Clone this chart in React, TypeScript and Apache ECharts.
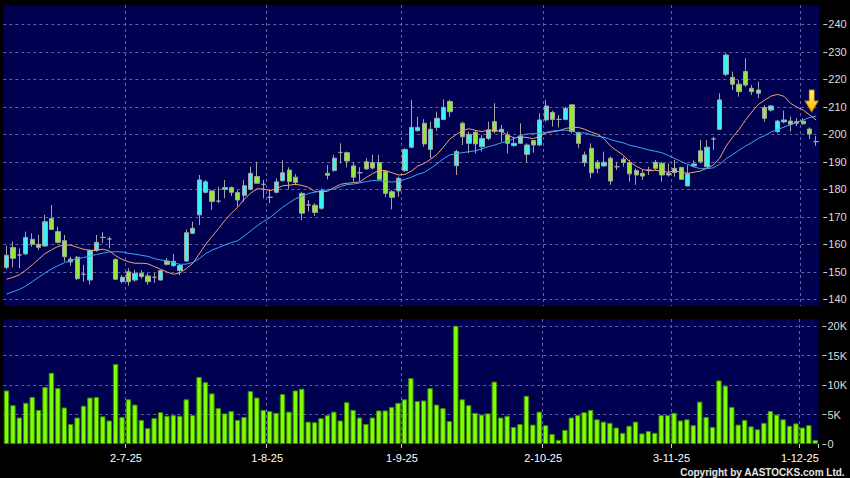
import React, { useEffect, useRef } from 'react';
import * as echarts from 'echarts';

// Trading days shown (HK market, 2025)
const JUN = [4, 5, 6, 9, 10, 11, 12, 13, 16, 17, 18, 19, 20, 23, 24, 25, 26, 27, 30];
const JUL = [2, 3, 4, 7, 8, 9, 10, 11, 14, 15, 16, 17, 18, 21, 22, 23, 24, 25, 28, 29, 30, 31];
const AUG = [1, 4, 5, 6, 7, 8, 11, 12, 13, 14, 15, 18, 19, 20, 21, 22, 25, 26, 27, 28, 29];
const SEP = [1, 2, 3, 4, 5, 8, 9, 10, 11, 12, 15, 16, 17, 18, 19, 22, 23, 24, 25, 26, 29, 30];
const OCT = [2, 3, 6, 8, 9, 10, 13, 14, 15, 16, 17, 20, 21, 22, 23, 24, 27, 28, 30, 31];
const NOV = [3, 4, 5, 6, 7, 10, 11, 12, 13, 14, 17, 18, 19, 20, 21, 24, 25, 26, 27, 28];
const DEC = [1, 2, 3];
const MONTHS: [number, number[]][] = [[6, JUN], [7, JUL], [8, AUG], [9, SEP], [10, OCT], [11, NOV], [12, DEC]];
const dates: string[] = [];
MONTHS.forEach(([m, days]) => days.forEach((d) => dates.push(`${d}-${m}-25`)));

const tickLabels = ['2-7-25', '1-8-25', '1-9-25', '2-10-25', '3-11-25', '1-12-25'];
const priceTicks = [140, 150, 160, 170, 180, 190, 200, 210, 220, 230, 240];
const volumeTicks = [0, 5000, 10000, 15000, 20000];

const opens = [151.6,158.8,156.1,156.5,161.8,160.0,159.4,169.4,164.6,161.3,
153.6,155.3,149.1,147.0,157.8,162.5,161.9,154.5,146.4,150.0,
147.0,149.5,148.5,148.0,147.0,153.9,152.2,150.5,153.9,164.0,
170.7,178.9,179.4,175.7,180.0,180.6,178.8,177.8,180.0,184.6,
181.8,177.1,178.9,183.1,187.0,184.4,178.5,174.3,174.2,173.1,
185.8,186.8,193.4,193.3,188.5,186.0,190.0,189.7,189.7,186.4,
179.1,179.4,186.8,195.3,201.3,204.0,194.5,202.5,205.4,211.9,
188.6,204.0,196.7,200.7,195.5,198.5,204.6,200.9,199.7,195.9,
196.7,192.7,197.7,196.1,205.2,207.9,205.4,205.4,210.7,200.6,
189.7,194.9,189.8,188.5,191.3,188.2,190.9,189.7,186.8,185.8,
187.0,189.8,189.4,185.2,186.1,187.9,181.2,188.5,194.0,188.2,
198.3,201.8,221.8,220.7,218.2,222.8,216.7,214.9,209.7,208.8,
201.0,204.5,204.8,204.0,204.8,201.9,197.3];

const closes = [156.0,154.9,156.1,162.5,160.0,158.9,168.2,165.4,160.7,155.5,
154.6,147.5,149.1,157.7,160.7,162.5,161.9,147.3,148.0,146.4,
149.4,148.3,146.4,148.0,150.4,152.7,153.8,152.3,164.2,165.8,
183.4,182.7,175.6,175.7,180.6,178.9,176.1,181.3,185.8,182.2,
181.8,177.1,182.7,186.0,182.8,182.5,171.3,174.3,171.6,179.5,
185.1,191.3,193.4,190.3,184.4,186.0,187.4,187.7,183.6,178.5,
177.1,184.0,194.5,202.5,202.5,196.5,201.8,205.8,209.8,208.2,
193.7,199.1,200.0,196.5,198.5,201.6,201.0,201.8,196.7,196.7,
199.4,196.1,196.1,205.2,210.3,205.4,205.4,209.4,201.0,196.7,
192.5,186.0,187.6,189.8,183.0,188.2,189.7,185.6,185.2,184.8,
187.0,187.6,185.2,185.8,187.6,183.6,185.6,189.2,190.0,195.3,
198.3,212.5,228.8,218.2,215.5,217.9,215.5,216.1,205.8,210.3,
204.8,205.2,203.6,204.6,203.8,200.1,197.3];

const lows = [150.9,151.6,151.3,156.1,159.1,157.9,159.1,165.2,160.3,153.7,
152.1,147.0,146.4,145.4,157.3,160.4,158.5,147.0,145.8,145.0,
146.4,147.5,145.3,146.0,146.8,152.3,151.9,148.8,153.7,163.7,
167.0,178.5,172.5,174.9,176.7,177.6,173.7,175.5,179.7,182.0,
176.7,174.9,178.5,182.8,180.0,181.5,168.8,171.9,170.3,172.5,
183.6,186.4,189.4,188.0,182.7,183.0,187.0,187.2,183.4,177.1,
172.7,177.3,186.4,194.9,201.0,195.5,191.3,201.3,205.2,206.4,
185.2,196.1,193.1,193.1,193.7,197.9,200.3,197.3,193.1,195.5,
196.5,189.7,193.3,195.7,204.6,202.8,202.5,205.2,200.3,194.9,
188.2,184.0,185.8,188.2,181.6,187.0,188.2,182.8,181.6,183.4,
185.2,187.0,182.8,184.6,184.6,183.4,181.2,188.0,189.4,188.0,
194.3,201.6,221.2,216.1,213.7,217.3,214.3,213.1,204.6,208.2,
200.4,204.0,201.0,203.0,203.5,198.2,195.8];

const highs = [159.5,161.0,158.5,164.6,164.0,163.4,170.7,174.3,166.4,163.4,
155.5,155.7,152.5,158.2,163.4,164.4,162.8,154.9,148.8,151.3,
150.7,150.5,149.5,149.5,150.8,155.0,156.5,152.8,165.4,168.2,
185.2,183.4,179.7,181.0,183.4,181.0,179.7,183.4,188.2,190.0,
183.4,179.7,184.0,190.6,188.0,185.5,179.1,176.1,174.9,180.3,
188.8,192.5,196.7,193.7,190.0,188.0,191.3,192.5,192.5,187.0,
179.7,184.6,194.9,212.5,206.4,205.5,204.6,208.2,212.7,212.5,
194.3,204.6,201.0,201.5,199.7,204.6,211.3,203.4,201.0,199.1,
204.0,196.7,197.9,207.6,212.5,208.6,207.0,210.0,211.0,201.0,
193.7,196.7,190.7,193.7,191.9,190.0,191.9,190.7,187.6,187.0,
188.2,190.7,190.0,189.4,190.7,188.2,188.8,190.5,197.9,197.9,
199.1,214.9,229.4,222.8,219.7,227.6,217.9,219.1,210.6,210.6,
205.2,208.6,206.4,205.8,205.8,202.5,199.4];

const ma10 = [147.3,148.0,148.9,150.6,152.5,154.6,156.6,158.0,159.2,159.8,
159.7,158.9,158.2,157.8,157.8,158.2,157.6,155.8,154.5,153.6,
153.1,153.1,152.9,151.9,150.9,149.9,149.1,149.6,151.2,153.1,
156.5,160.0,162.9,165.7,168.7,171.3,173.5,176.4,178.6,180.2,
180.1,179.5,180.2,181.3,181.5,181.8,181.4,180.7,179.2,179.0,
179.3,180.7,181.8,182.2,182.4,182.7,184.3,185.7,186.9,186.8,
186.0,185.2,185.4,186.6,188.4,189.4,190.9,192.7,195.3,198.3,
199.9,201.4,202.0,201.4,201.0,201.5,201.4,201.0,199.7,198.6,
199.1,198.8,198.4,199.3,200.5,200.9,201.3,202.1,202.5,202.5,
201.8,200.8,200.0,198.4,195.7,194.0,192.4,190.0,188.4,187.2,
186.7,186.9,186.6,186.2,186.7,186.2,185.8,186.2,186.6,187.7,
188.8,191.3,195.7,198.9,201.7,205.1,208.1,210.8,212.4,213.9,
214.5,213.8,211.3,209.9,208.8,207.0,205.2];

const ma20 = [141.9,142.7,143.6,144.8,146.4,148.0,149.6,151.0,152.2,153.3,
154.1,154.7,155.2,155.7,156.3,156.8,157.2,157.3,157.2,156.7,
156.4,156.0,155.6,154.8,154.3,154.0,153.3,152.7,152.8,153.4,
154.8,156.6,157.9,158.8,159.8,160.6,161.3,163.0,164.9,166.7,
168.3,169.7,171.6,173.5,175.1,176.6,177.4,178.5,178.9,179.6,
179.7,180.1,181.0,181.7,181.9,182.3,182.8,183.2,183.1,182.9,
182.6,183.0,183.6,184.4,185.4,186.1,187.6,189.2,191.1,192.5,
193.0,193.3,193.7,194.0,194.7,195.5,196.1,196.9,197.5,198.4,
199.5,200.1,200.2,200.4,200.7,201.2,201.4,201.5,201.1,200.5,
200.5,199.8,199.2,198.9,198.1,197.4,196.9,196.0,195.5,194.9,
194.3,193.8,193.3,192.3,191.2,190.1,189.1,188.1,187.5,187.5,
187.8,189.1,191.1,192.6,194.2,195.7,197.0,198.5,199.5,200.8,
201.7,202.6,203.5,204.4,205.2,206.1,206.6];

const volumes = [9100,6600,4500,7000,8000,5800,9700,12100,9500,6200,
3400,4500,6500,7900,8000,4700,4000,13600,4600,7600,
6700,4100,2700,4400,5400,4800,4900,4800,7600,4900,
11400,10500,8600,6100,5200,5600,4100,4600,9000,7900,
5800,5600,5300,8500,5500,9100,9400,3800,3700,4400,
4900,5500,4000,7100,5800,4500,3400,4500,5700,5700,
6300,7000,7600,11200,7300,7400,9500,6700,6100,3900,
20100,7600,6600,5300,5000,5200,10600,4500,4800,2900,
3400,8200,3300,5500,3200,1700,700,2400,4500,4900,
5400,5800,4200,3800,3600,2800,1900,3100,3800,1800,
2200,1900,4900,4900,5300,4000,4200,3200,7200,4600,
2900,10800,9900,6300,3300,4100,3000,2500,3600,5600,
5000,4200,3100,3500,2800,3200,700];

const arrowAt = { date: '2-12-25', price: 212.1 };

const FONT = '"Liberation Sans", Arial, sans-serif';
const NAVY = '#000050';
const GRID_LINE = { color: '#62629c', width: 1, type: [3, 3] as number[] };
const isTick = (_i: number, v: string) => tickLabels.includes(v);

function buildOption(): any {
  const candles = opens.map((o, i) => [o, closes[i], lows[i], highs[i]]);
  const xBase = {
    type: 'category',
    data: dates,
    boundaryGap: true,
    axisLine: { show: false },
  };
  const yBase = {
    type: 'value',
    position: 'right',
    offset: 4,
    axisLine: { show: false },
    axisLabel: { color: '#dcdcdc', fontSize: 11, fontFamily: FONT, margin: 5 },
    splitLine: { show: true, lineStyle: GRID_LINE },
  };
  return {
    animation: false,
    backgroundColor: '#000000',
    grid: [
      { left: 3.3, top: 5, width: 816, height: 301, show: true, backgroundColor: NAVY, borderWidth: 0 },
      { left: 3.3, top: 319, width: 816, height: 125, show: true, backgroundColor: NAVY, borderWidth: 0 },
    ],
    xAxis: [
      {
        ...xBase,
        gridIndex: 0,
        axisTick: { show: false },
        axisLabel: { show: false },
        splitLine: { show: true, interval: isTick, showMaxLine: false, lineStyle: GRID_LINE },
      },
      {
        ...xBase,
        gridIndex: 1,
        axisTick: { show: true, interval: isTick, length: 4, lineStyle: { color: '#cccccc' } },
        axisLabel: {
          show: true,
          interval: isTick,
          color: '#ffffff',
          fontSize: 11,
          fontFamily: FONT,
          margin: 8,
          padding: [0, 5, 0, 0],
        },
        splitLine: { show: true, interval: isTick, showMaxLine: false, lineStyle: GRID_LINE },
      },
    ],
    yAxis: [
      {
        ...yBase,
        gridIndex: 0,
        min: 137.56,
        max: 247.0,
        axisTick: { show: true, length: 4, customValues: priceTicks, lineStyle: { color: '#cccccc' } },
        axisLabel: { ...yBase.axisLabel, customValues: priceTicks },
      },
      {
        ...yBase,
        gridIndex: 1,
        min: 0,
        max: 21240,
        axisTick: { show: true, length: 4, customValues: volumeTicks, lineStyle: { color: '#cccccc' } },
        axisLabel: {
          ...yBase.axisLabel,
          customValues: volumeTicks,
          formatter: (v: number) => (v === 0 ? '0' : `${v / 1000}K`),
        },
        splitLine: { show: true, showMinLine: false, lineStyle: GRID_LINE },
      },
    ],
    series: [
      {
        type: 'candlestick',
        xAxisIndex: 0,
        yAxisIndex: 0,
        data: candles,
        barWidth: 4.8,
        silent: true,
        itemStyle: {
          color: '#3af2f2',
          color0: '#94e83a',
          borderColor: '#a4a4a4',
          borderColor0: '#a4a4a4',
          borderColorDoji: '#a4a4a4',
          borderWidth: 1,
        },
        markPoint: {
          silent: true,
          symbol: 'path://M4,0H9V11H13L6.5,22L0,11H4Z',
          symbolSize: [13, 22],
          symbolOffset: [2, 0],
          label: { show: false },
          itemStyle: {
            color: new echarts.graphic.LinearGradient(0, 0, 0, 1, [
              { offset: 0, color: '#fff27a' },
              { offset: 1, color: '#ffb400' },
            ]),
            borderColor: '#d08a00',
            borderWidth: 0.8,
          },
          data: [{ coord: [arrowAt.date, arrowAt.price] }],
        },
        z: 2,
      },
      {
        type: 'line',
        xAxisIndex: 0,
        yAxisIndex: 0,
        data: ma10,
        showSymbol: false,
        silent: true,
        lineStyle: { color: '#f2a070', width: 1 },
        z: 3,
      },
      {
        type: 'line',
        xAxisIndex: 0,
        yAxisIndex: 0,
        data: ma20,
        showSymbol: false,
        silent: true,
        lineStyle: { color: '#3aa6f2', width: 1 },
        z: 3,
      },
      {
        type: 'bar',
        xAxisIndex: 1,
        yAxisIndex: 1,
        data: volumes,
        barWidth: 5.4,
        silent: true,
        itemStyle: { color: '#80ff00', borderColor: '#3c8c00', borderWidth: 1 },
      },
    ],
    graphic: [
      {
        type: 'text',
        right: 5,
        bottom: 1,
        silent: true,
        style: {
          text: 'Copyright by AASTOCKS.com Ltd.',
          fill: '#e6e6e6',
          font: `bold 10px ${FONT}`,
        },
      },
    ],
  };
}

export default function App() {
  const ref = useRef<HTMLDivElement>(null);
  useEffect(() => {
    document.body.style.margin = '0';
    document.body.style.background = '#000';
    const chart = echarts.init(ref.current as HTMLDivElement, undefined, { renderer: 'svg' });
    chart.setOption(buildOption());
    return () => chart.dispose();
  }, []);
  return (
    <div
      ref={ref}
      style={{ position: 'absolute', left: 0, top: 0, width: 850, height: 478, background: '#000' }}
    />
  );
}
